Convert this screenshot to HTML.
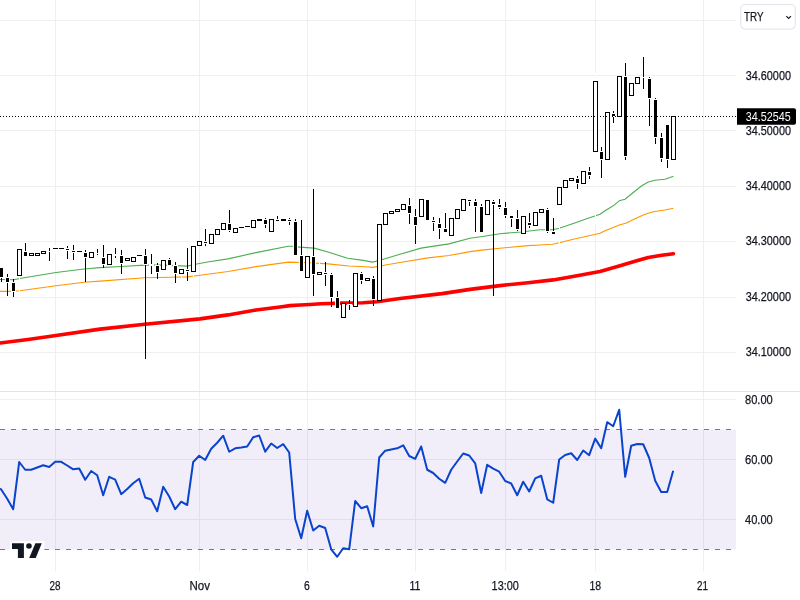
<!DOCTYPE html>
<html><head><meta charset="utf-8"><title>TRY chart</title>
<style>
html,body{margin:0;padding:0;background:#fff;width:800px;height:600px;overflow:hidden}
svg{position:absolute;left:0;top:0;display:block}
text{font-family:"Liberation Sans", Arial, sans-serif}
.d{stroke:#131722;stroke-width:0.25px}
</style></head>
<body>
<svg width="800" height="600" viewBox="0 0 800 600">
<rect x="0" y="0" width="800" height="600" fill="#ffffff"/>
<g fill="#efefef" shape-rendering="crispEdges">
<rect x="0" y="20" width="736" height="1"/>
<rect x="0" y="75" width="736" height="1"/>
<rect x="0" y="130" width="736" height="1"/>
<rect x="0" y="186" width="736" height="1"/>
<rect x="0" y="241" width="736" height="1"/>
<rect x="0" y="297" width="736" height="1"/>
<rect x="0" y="352" width="736" height="1"/>
<rect x="0" y="399" width="736" height="1"/>
<rect x="0" y="459" width="736" height="1"/>
<rect x="0" y="519" width="736" height="1"/>
<rect x="55" y="0" width="1" height="391"/>
<rect x="55" y="392" width="1" height="179"/>
<rect x="199" y="0" width="1" height="391"/>
<rect x="199" y="392" width="1" height="179"/>
<rect x="307" y="0" width="1" height="391"/>
<rect x="307" y="392" width="1" height="179"/>
<rect x="415" y="0" width="1" height="391"/>
<rect x="415" y="392" width="1" height="179"/>
<rect x="505" y="0" width="1" height="391"/>
<rect x="505" y="392" width="1" height="179"/>
<rect x="595" y="0" width="1" height="391"/>
<rect x="595" y="392" width="1" height="179"/>
<rect x="703" y="0" width="1" height="391"/>
<rect x="703" y="392" width="1" height="179"/>
</g>
<!-- RSI band -->
<rect x="0" y="429.5" width="736" height="120" fill="rgb(126,87,194)" fill-opacity="0.1"/>
<!-- pane separator -->
<rect x="0" y="391" width="800" height="1" fill="#e0e3eb" shape-rendering="crispEdges"/>
<!-- RSI dashed bounds -->
<line x1="0" y1="429.5" x2="736" y2="429.5" stroke="#787b86" stroke-width="1" stroke-dasharray="5 6" stroke-dashoffset="0"/>
<line x1="0" y1="549.5" x2="736" y2="549.5" stroke="#787b86" stroke-width="1" stroke-dasharray="5 6" stroke-dashoffset="0"/>
<!-- MAs -->
<polyline points="0.00,279.50 14.00,279.80 19.60,278.50 56.00,272.50 84.00,269.00 100.00,267.60 121.00,266.50 144.80,265.10 163.00,265.10 187.00,266.10 195.50,264.25 207.50,262.00 228.00,258.90 256.00,252.60 288.20,246.30 292.40,246.30 300.00,247.10 314.00,248.10 328.00,252.00 347.60,258.30 363.00,260.40 372.80,262.10 384.00,259.00 400.00,254.30 421.00,248.10 449.00,243.90 470.00,238.30 484.00,236.20 500.00,233.70 521.00,232.00 540.00,229.75 552.50,229.75 559.20,228.30 573.30,223.50 586.70,218.75 600.00,214.20 605.00,210.80 613.30,205.80 619.20,200.80 625.00,199.20 633.30,192.50 641.70,185.80 648.30,182.00 655.00,180.30 665.00,179.20 673.50,176.30" fill="none" stroke="#4caf50" stroke-width="1.1" stroke-linejoin="round"/>
<polyline points="0.00,291.40 11.20,291.40 19.60,290.70 56.00,285.80 84.00,282.30 100.00,281.10 144.80,277.80 170.00,277.20 187.00,276.90 200.00,275.20 228.00,271.50 256.00,266.60 288.20,262.10 304.20,262.50 328.00,263.90 349.00,266.00 365.80,266.70 372.80,267.40 384.00,265.30 400.00,262.50 428.00,257.90 449.00,255.50 470.00,251.60 484.00,249.90 500.00,248.20 528.00,245.60 540.00,245.00 552.50,244.20 559.20,242.70 573.30,239.20 586.70,236.25 600.00,233.30 605.00,230.80 613.30,227.50 620.00,224.70 625.80,223.30 635.00,218.70 645.00,214.20 653.30,211.70 665.00,210.00 673.50,208.30" fill="none" stroke="#ff9800" stroke-width="1.1" stroke-linejoin="round"/>
<polyline points="0.00,343.00 28.00,339.50 56.00,335.50 100.00,329.10 144.80,324.30 200.00,318.90 228.00,314.90 256.00,310.00 280.00,307.00 290.00,305.60 300.00,305.00 310.00,304.50 321.00,303.80 342.00,303.10 363.00,302.70 377.00,301.70 384.00,300.70 400.00,298.50 442.00,293.60 470.00,289.40 500.00,285.60 528.00,282.70 553.20,279.90 577.00,275.70 600.00,271.50 620.00,265.80 636.70,260.80 648.30,257.50 661.70,255.30 673.50,253.70" fill="none" stroke="#ff0000" stroke-width="3.6" stroke-linejoin="round" stroke-linecap="round"/>
<!-- candles -->
<g fill="#000" shape-rendering="crispEdges">
<rect x="559" y="205" width="1" height="39" fill="#fff"/>
<rect x="19" y="276" width="1" height="24" fill="#fff"/>
<rect x="55" y="245" width="1" height="9" fill="#fff"/>
<rect x="181" y="274" width="1" height="5" fill="#fff"/>
<rect x="193" y="272" width="1" height="6" fill="#fff"/>
<rect x="307" y="254" width="1" height="26" fill="#fff"/>
<rect x="319" y="261" width="1" height="11" fill="#fff"/>
<rect x="595" y="73" width="1" height="151" fill="#fff"/>
<rect x="1" y="267" width="1" height="15"/>
<rect x="-1" y="267" width="5" height="11" fill="#fff"/>
<rect x="0" y="268" width="3" height="9"/>
<rect x="7" y="274" width="1" height="22"/>
<rect x="5" y="277" width="5" height="6" fill="#fff"/>
<rect x="6" y="278" width="3" height="4"/>
<rect x="13" y="279" width="1" height="18"/>
<rect x="11" y="282" width="5" height="10" fill="#fff"/>
<rect x="12" y="283" width="3" height="8"/>
<rect x="17" y="249" width="5" height="27"/>
<rect x="18" y="250" width="3" height="25" fill="#fff"/>
<rect x="25" y="243" width="1" height="14"/>
<rect x="23" y="251" width="5" height="6" fill="#fff"/>
<rect x="24" y="252" width="3" height="4"/>
<rect x="29" y="253" width="5" height="3"/>
<rect x="30" y="254" width="3" height="1" fill="#fff"/>
<rect x="35" y="253" width="5" height="3"/>
<rect x="36" y="254" width="3" height="1" fill="#fff"/>
<rect x="41" y="251" width="5" height="3"/>
<rect x="42" y="252" width="3" height="1" fill="#fff"/>
<rect x="49" y="248" width="1" height="13"/>
<rect x="47" y="251" width="5" height="1" fill="#fff"/>
<rect x="53" y="248" width="5" height="1"/>
<rect x="59" y="248" width="5" height="1"/>
<rect x="67" y="246" width="1" height="13"/>
<rect x="65" y="248" width="5" height="3" fill="#fff"/>
<rect x="66" y="249" width="3" height="1"/>
<rect x="73" y="245" width="1" height="15"/>
<rect x="71" y="250" width="5" height="3" fill="#fff"/>
<rect x="72" y="251" width="3" height="1"/>
<rect x="77" y="251" width="5" height="1"/>
<rect x="85" y="250" width="1" height="32"/>
<rect x="83" y="252" width="5" height="6" fill="#fff"/>
<rect x="84" y="253" width="3" height="4"/>
<rect x="89" y="252" width="5" height="6"/>
<rect x="90" y="253" width="3" height="4" fill="#fff"/>
<rect x="97" y="249" width="1" height="6"/>
<rect x="95" y="253" width="5" height="1" fill="#fff"/>
<rect x="103" y="245" width="1" height="23"/>
<rect x="101" y="257" width="5" height="8" fill="#fff"/>
<rect x="102" y="258" width="3" height="6"/>
<rect x="107" y="254" width="5" height="11"/>
<rect x="108" y="255" width="3" height="9" fill="#fff"/>
<rect x="115" y="248" width="1" height="10"/>
<rect x="113" y="254" width="5" height="2" fill="#fff"/>
<rect x="121" y="250" width="1" height="24"/>
<rect x="119" y="255" width="5" height="9" fill="#fff"/>
<rect x="120" y="256" width="3" height="7"/>
<rect x="125" y="258" width="5" height="3"/>
<rect x="126" y="259" width="3" height="1" fill="#fff"/>
<rect x="131" y="257" width="5" height="5"/>
<rect x="132" y="258" width="3" height="3" fill="#fff"/>
<rect x="137" y="255" width="5" height="1"/>
<rect x="145" y="249" width="1" height="110"/>
<rect x="143" y="255" width="5" height="10" fill="#fff"/>
<rect x="144" y="256" width="3" height="8"/>
<rect x="151" y="254" width="1" height="20"/>
<rect x="149" y="264" width="5" height="2" fill="#fff"/>
<rect x="157" y="263" width="1" height="16"/>
<rect x="155" y="265" width="5" height="8" fill="#fff"/>
<rect x="156" y="266" width="3" height="6"/>
<rect x="161" y="260" width="5" height="10"/>
<rect x="162" y="261" width="3" height="8" fill="#fff"/>
<rect x="169" y="258" width="1" height="8"/>
<rect x="167" y="259" width="5" height="7" fill="#fff"/>
<rect x="168" y="260" width="3" height="5"/>
<rect x="175" y="262" width="1" height="21"/>
<rect x="173" y="265" width="5" height="9" fill="#fff"/>
<rect x="174" y="266" width="3" height="7"/>
<rect x="179" y="269" width="5" height="5"/>
<rect x="180" y="270" width="3" height="3" fill="#fff"/>
<rect x="187" y="248" width="1" height="33"/>
<rect x="185" y="269" width="5" height="3" fill="#fff"/>
<rect x="186" y="270" width="3" height="1"/>
<rect x="191" y="246" width="5" height="26"/>
<rect x="192" y="247" width="3" height="24" fill="#fff"/>
<rect x="197" y="241" width="5" height="5"/>
<rect x="198" y="242" width="3" height="3" fill="#fff"/>
<rect x="205" y="229" width="1" height="17"/>
<rect x="203" y="241" width="5" height="3" fill="#fff"/>
<rect x="204" y="242" width="3" height="1"/>
<rect x="209" y="234" width="5" height="10"/>
<rect x="210" y="235" width="3" height="8" fill="#fff"/>
<rect x="215" y="229" width="5" height="6"/>
<rect x="216" y="230" width="3" height="4" fill="#fff"/>
<rect x="221" y="223" width="5" height="7"/>
<rect x="222" y="224" width="3" height="5" fill="#fff"/>
<rect x="229" y="210" width="1" height="22"/>
<rect x="227" y="223" width="5" height="8" fill="#fff"/>
<rect x="228" y="224" width="3" height="6"/>
<rect x="233" y="228" width="5" height="5"/>
<rect x="234" y="229" width="3" height="3" fill="#fff"/>
<rect x="239" y="227" width="5" height="1"/>
<rect x="245" y="226" width="5" height="1"/>
<rect x="251" y="220" width="5" height="8"/>
<rect x="252" y="221" width="3" height="6" fill="#fff"/>
<rect x="257" y="219" width="5" height="2"/>
<rect x="265" y="218" width="1" height="10"/>
<rect x="263" y="219" width="5" height="6" fill="#fff"/>
<rect x="264" y="220" width="3" height="4"/>
<rect x="269" y="219" width="5" height="13"/>
<rect x="270" y="220" width="3" height="11" fill="#fff"/>
<rect x="277" y="216" width="1" height="6"/>
<rect x="275" y="219" width="5" height="3" fill="#fff"/>
<rect x="276" y="220" width="3" height="1"/>
<rect x="281" y="219" width="5" height="2"/>
<rect x="289" y="218" width="1" height="7"/>
<rect x="287" y="219" width="5" height="3" fill="#fff"/>
<rect x="288" y="220" width="3" height="1"/>
<rect x="295" y="219" width="1" height="37"/>
<rect x="293" y="221" width="5" height="35" fill="#fff"/>
<rect x="294" y="222" width="3" height="33"/>
<rect x="301" y="220" width="1" height="52"/>
<rect x="299" y="255" width="5" height="17" fill="#fff"/>
<rect x="300" y="256" width="3" height="15"/>
<rect x="305" y="256" width="5" height="22"/>
<rect x="306" y="257" width="3" height="20" fill="#fff"/>
<rect x="313" y="189" width="1" height="107"/>
<rect x="311" y="256" width="5" height="19" fill="#fff"/>
<rect x="312" y="257" width="3" height="17"/>
<rect x="317" y="272" width="5" height="3"/>
<rect x="318" y="273" width="3" height="1" fill="#fff"/>
<rect x="325" y="262" width="1" height="24"/>
<rect x="323" y="272" width="5" height="3" fill="#fff"/>
<rect x="324" y="273" width="3" height="1"/>
<rect x="331" y="273" width="1" height="34"/>
<rect x="329" y="274" width="5" height="24" fill="#fff"/>
<rect x="330" y="275" width="3" height="22"/>
<rect x="337" y="291" width="1" height="18"/>
<rect x="335" y="297" width="5" height="12" fill="#fff"/>
<rect x="336" y="298" width="3" height="10"/>
<rect x="341" y="303" width="5" height="15"/>
<rect x="342" y="304" width="3" height="13" fill="#fff"/>
<rect x="349" y="300" width="1" height="10"/>
<rect x="347" y="304" width="5" height="1" fill="#fff"/>
<rect x="353" y="273" width="5" height="34"/>
<rect x="354" y="274" width="3" height="32" fill="#fff"/>
<rect x="361" y="272" width="1" height="12"/>
<rect x="359" y="273" width="5" height="8" fill="#fff"/>
<rect x="360" y="274" width="3" height="6"/>
<rect x="365" y="278" width="5" height="3"/>
<rect x="366" y="279" width="3" height="1" fill="#fff"/>
<rect x="373" y="276" width="1" height="30"/>
<rect x="371" y="278" width="5" height="22" fill="#fff"/>
<rect x="372" y="279" width="3" height="20"/>
<rect x="377" y="224" width="5" height="77"/>
<rect x="378" y="225" width="3" height="75" fill="#fff"/>
<rect x="383" y="213" width="5" height="12"/>
<rect x="384" y="214" width="3" height="10" fill="#fff"/>
<rect x="389" y="211" width="5" height="3"/>
<rect x="390" y="212" width="3" height="1" fill="#fff"/>
<rect x="395" y="209" width="5" height="3"/>
<rect x="396" y="210" width="3" height="1" fill="#fff"/>
<rect x="401" y="204" width="5" height="6"/>
<rect x="402" y="205" width="3" height="4" fill="#fff"/>
<rect x="409" y="198" width="1" height="26"/>
<rect x="407" y="205" width="5" height="9" fill="#fff"/>
<rect x="408" y="206" width="3" height="7"/>
<rect x="415" y="209" width="1" height="35"/>
<rect x="413" y="216" width="5" height="10" fill="#fff"/>
<rect x="414" y="217" width="3" height="8"/>
<rect x="419" y="199" width="5" height="18"/>
<rect x="420" y="200" width="3" height="16" fill="#fff"/>
<rect x="427" y="199" width="1" height="22"/>
<rect x="425" y="199" width="5" height="22" fill="#fff"/>
<rect x="426" y="200" width="3" height="20"/>
<rect x="433" y="217" width="1" height="14"/>
<rect x="431" y="220" width="5" height="3" fill="#fff"/>
<rect x="432" y="221" width="3" height="1"/>
<rect x="439" y="218" width="1" height="21"/>
<rect x="437" y="223" width="5" height="6" fill="#fff"/>
<rect x="438" y="224" width="3" height="4"/>
<rect x="445" y="213" width="1" height="20"/>
<rect x="443" y="228" width="5" height="5" fill="#fff"/>
<rect x="444" y="229" width="3" height="3"/>
<rect x="449" y="218" width="5" height="18"/>
<rect x="450" y="219" width="3" height="16" fill="#fff"/>
<rect x="455" y="209" width="5" height="10"/>
<rect x="456" y="210" width="3" height="8" fill="#fff"/>
<rect x="461" y="199" width="5" height="12"/>
<rect x="462" y="200" width="3" height="10" fill="#fff"/>
<rect x="469" y="199" width="1" height="7"/>
<rect x="467" y="199" width="5" height="3" fill="#fff"/>
<rect x="468" y="200" width="3" height="1"/>
<rect x="475" y="199" width="1" height="33"/>
<rect x="473" y="201" width="5" height="6" fill="#fff"/>
<rect x="474" y="202" width="3" height="4"/>
<rect x="481" y="204" width="1" height="29"/>
<rect x="479" y="206" width="5" height="27" fill="#fff"/>
<rect x="480" y="207" width="3" height="25"/>
<rect x="485" y="200" width="5" height="15"/>
<rect x="486" y="201" width="3" height="13" fill="#fff"/>
<rect x="493" y="200" width="1" height="96"/>
<rect x="491" y="201" width="5" height="4" fill="#fff"/>
<rect x="492" y="202" width="3" height="2"/>
<rect x="499" y="199" width="1" height="10"/>
<rect x="497" y="204" width="5" height="4" fill="#fff"/>
<rect x="498" y="205" width="3" height="2"/>
<rect x="505" y="202" width="1" height="16"/>
<rect x="503" y="207" width="5" height="9" fill="#fff"/>
<rect x="504" y="208" width="3" height="7"/>
<rect x="511" y="215" width="1" height="12"/>
<rect x="509" y="215" width="5" height="4" fill="#fff"/>
<rect x="510" y="216" width="3" height="2"/>
<rect x="517" y="210" width="1" height="21"/>
<rect x="515" y="218" width="5" height="12" fill="#fff"/>
<rect x="516" y="219" width="3" height="10"/>
<rect x="521" y="216" width="5" height="18"/>
<rect x="522" y="217" width="3" height="16" fill="#fff"/>
<rect x="529" y="213" width="1" height="15"/>
<rect x="527" y="222" width="5" height="4" fill="#fff"/>
<rect x="528" y="223" width="3" height="2"/>
<rect x="533" y="212" width="5" height="14"/>
<rect x="534" y="213" width="3" height="12" fill="#fff"/>
<rect x="539" y="209" width="5" height="4"/>
<rect x="540" y="210" width="3" height="2" fill="#fff"/>
<rect x="547" y="208" width="1" height="25"/>
<rect x="545" y="209" width="5" height="23" fill="#fff"/>
<rect x="546" y="210" width="3" height="21"/>
<rect x="553" y="218" width="1" height="17"/>
<rect x="551" y="231" width="5" height="4" fill="#fff"/>
<rect x="552" y="232" width="3" height="2"/>
<rect x="557" y="187" width="5" height="18"/>
<rect x="558" y="188" width="3" height="16" fill="#fff"/>
<rect x="563" y="180" width="5" height="8"/>
<rect x="564" y="181" width="3" height="6" fill="#fff"/>
<rect x="569" y="178" width="5" height="3"/>
<rect x="570" y="179" width="3" height="1" fill="#fff"/>
<rect x="577" y="176" width="1" height="13"/>
<rect x="575" y="178" width="5" height="6" fill="#fff"/>
<rect x="576" y="179" width="3" height="4"/>
<rect x="581" y="171" width="5" height="13"/>
<rect x="582" y="172" width="3" height="11" fill="#fff"/>
<rect x="589" y="167" width="1" height="12"/>
<rect x="587" y="171" width="5" height="5" fill="#fff"/>
<rect x="588" y="172" width="3" height="3"/>
<rect x="593" y="81" width="5" height="71"/>
<rect x="594" y="82" width="3" height="69" fill="#fff"/>
<rect x="601" y="147" width="1" height="31"/>
<rect x="599" y="151" width="5" height="9" fill="#fff"/>
<rect x="600" y="152" width="3" height="7"/>
<rect x="605" y="112" width="5" height="48"/>
<rect x="606" y="113" width="3" height="46" fill="#fff"/>
<rect x="613" y="111" width="1" height="12"/>
<rect x="611" y="113" width="5" height="4" fill="#fff"/>
<rect x="612" y="114" width="3" height="2"/>
<rect x="617" y="76" width="5" height="41"/>
<rect x="618" y="77" width="3" height="39" fill="#fff"/>
<rect x="625" y="63" width="1" height="97"/>
<rect x="623" y="76" width="5" height="81" fill="#fff"/>
<rect x="624" y="77" width="3" height="79"/>
<rect x="629" y="83" width="5" height="13"/>
<rect x="630" y="84" width="3" height="11" fill="#fff"/>
<rect x="635" y="77" width="5" height="7"/>
<rect x="636" y="78" width="3" height="5" fill="#fff"/>
<rect x="643" y="57" width="1" height="32"/>
<rect x="641" y="77" width="5" height="1" fill="#fff"/>
<rect x="649" y="77" width="1" height="49"/>
<rect x="647" y="78" width="5" height="21" fill="#fff"/>
<rect x="648" y="79" width="3" height="19"/>
<rect x="655" y="98" width="1" height="46"/>
<rect x="653" y="99" width="5" height="39" fill="#fff"/>
<rect x="654" y="100" width="3" height="37"/>
<rect x="661" y="133" width="1" height="29"/>
<rect x="659" y="137" width="5" height="22" fill="#fff"/>
<rect x="660" y="138" width="3" height="20"/>
<rect x="667" y="124" width="1" height="44"/>
<rect x="665" y="124" width="5" height="36" fill="#fff"/>
<rect x="666" y="125" width="3" height="34"/>
<rect x="671" y="116" width="5" height="44"/>
<rect x="672" y="117" width="3" height="42" fill="#fff"/>
</g>
<!-- current price dotted line -->
<line x1="0" y1="116.5" x2="737" y2="116.5" stroke="#000" stroke-width="1" stroke-dasharray="1 2" shape-rendering="crispEdges"/>
<!-- RSI line -->
<polyline points="0.00,488.50 1.20,489.50 7.20,498.70 13.20,509.20 19.20,462.00 25.20,469.75 31.20,469.75 37.20,467.50 43.20,465.25 49.20,467.00 55.20,461.80 61.20,461.80 67.20,465.50 73.20,469.30 79.20,468.50 85.20,479.80 91.20,471.00 97.20,475.30 103.20,495.25 109.20,476.80 115.20,479.70 121.20,494.20 127.20,489.00 133.20,483.25 139.20,478.75 145.20,497.50 151.20,499.50 157.20,511.30 163.20,486.70 169.20,496.50 175.20,509.20 181.20,501.70 187.20,505.00 193.20,462.00 199.20,455.80 205.20,460.00 211.20,448.75 217.20,442.75 223.20,435.70 229.20,451.75 235.20,448.30 241.20,447.50 247.20,446.50 253.20,437.30 259.20,435.50 265.20,451.70 271.20,443.50 277.20,448.00 283.20,444.20 289.20,452.50 295.20,519.00 301.20,538.20 307.20,510.75 313.20,530.50 319.20,525.75 325.20,528.00 331.20,549.30 337.20,556.80 343.20,548.25 349.20,549.30 355.20,501.00 361.20,508.20 367.20,506.25 373.20,526.50 379.20,457.50 385.20,450.70 391.20,449.50 397.20,448.30 403.20,445.30 409.20,456.00 415.20,458.80 421.20,446.50 427.20,469.75 433.20,473.00 439.20,478.75 445.20,482.80 451.20,469.75 457.20,461.50 463.20,453.50 469.20,455.50 475.20,463.30 481.20,493.00 487.20,464.80 493.20,468.70 499.20,471.70 505.20,481.00 511.20,483.50 517.20,495.25 523.20,481.75 529.20,491.50 535.20,478.30 541.20,475.75 547.20,499.30 553.20,502.75 559.20,459.50 565.20,455.00 571.20,453.25 577.20,460.00 583.20,450.50 589.20,455.20 595.20,438.60 601.20,448.30 607.20,422.20 613.20,426.25 619.20,409.75 625.20,476.80 631.20,445.75 637.20,444.00 643.20,444.25 649.20,458.00 655.20,480.80 661.20,492.00 667.20,492.00 673.20,470.80" fill="none" stroke="#0b44cc" stroke-width="2" stroke-linejoin="round"/>
<!-- TradingView logo -->
<rect x="10" y="541" width="34.4" height="10" fill="#ffffff"/>
<g fill="#131722">
<path d="M12 543.2 H23.9 V558 H17.9 V548.9 H12 Z"/>
<circle cx="28.95" cy="546" r="2.8"/>
<path d="M35.4 543.2 H41.8 L35.7 558 H29.2 Z"/>
</g>
<!-- price axis labels -->
<text class="d" x="745.7" y="80.2" font-size="12.2" fill="#131722" textLength="45.3" lengthAdjust="spacingAndGlyphs" text-anchor="start">34.60000</text><text class="d" x="745.7" y="134.9" font-size="12.2" fill="#131722" textLength="45.3" lengthAdjust="spacingAndGlyphs" text-anchor="start">34.50000</text><text class="d" x="745.7" y="190.2" font-size="12.2" fill="#131722" textLength="45.3" lengthAdjust="spacingAndGlyphs" text-anchor="start">34.40000</text><text class="d" x="745.7" y="245.4" font-size="12.2" fill="#131722" textLength="45.3" lengthAdjust="spacingAndGlyphs" text-anchor="start">34.30000</text><text class="d" x="745.7" y="301" font-size="12.2" fill="#131722" textLength="45.3" lengthAdjust="spacingAndGlyphs" text-anchor="start">34.20000</text><text class="d" x="745.7" y="356" font-size="12.2" fill="#131722" textLength="45.3" lengthAdjust="spacingAndGlyphs" text-anchor="start">34.10000</text><text class="d" x="745" y="404.3" font-size="12.8" fill="#131722" textLength="27.8" lengthAdjust="spacingAndGlyphs" text-anchor="start">80.00</text><text class="d" x="745" y="464.3" font-size="12.8" fill="#131722" textLength="27.8" lengthAdjust="spacingAndGlyphs" text-anchor="start">60.00</text><text class="d" x="745" y="524.3" font-size="12.8" fill="#131722" textLength="27.8" lengthAdjust="spacingAndGlyphs" text-anchor="start">40.00</text>
<!-- last price label -->
<path d="M737 108.3 H794 Q796 108.3 796 110.3 V122.7 Q796 124.7 794 124.7 H737 Z" fill="#000"/>
<text x="745.7" y="120.8" font-size="12.2" fill="#fff" textLength="45" lengthAdjust="spacingAndGlyphs">34.52545</text>
<!-- time labels -->
<text class="d" x="55" y="589.6" font-size="13" fill="#131722" text-anchor="middle" textLength="11" lengthAdjust="spacingAndGlyphs">28</text><text class="d" x="199.75" y="589.6" font-size="13" fill="#131722" text-anchor="middle" textLength="20.5" lengthAdjust="spacingAndGlyphs">Nov</text><text class="d" x="307" y="589.6" font-size="13" fill="#131722" text-anchor="middle" textLength="5.8" lengthAdjust="spacingAndGlyphs">6</text><text class="d" x="415" y="589.6" font-size="13" fill="#131722" text-anchor="middle" textLength="11" lengthAdjust="spacingAndGlyphs">11</text><text class="d" x="505.25" y="589.6" font-size="13" fill="#131722" text-anchor="middle" textLength="27.3" lengthAdjust="spacingAndGlyphs">13:00</text><text class="d" x="595.25" y="589.6" font-size="13" fill="#131722" text-anchor="middle" textLength="11.7" lengthAdjust="spacingAndGlyphs">18</text><text class="d" x="702.5" y="589.6" font-size="13" fill="#131722" text-anchor="middle" textLength="11" lengthAdjust="spacingAndGlyphs">21</text>
<!-- TRY dropdown -->
<rect x="740.8" y="4.6" width="54.4" height="24.5" rx="4" ry="4" fill="#fff" stroke="#e0e3eb" stroke-width="1"/>
<text class="d" x="744" y="21" font-size="13" fill="#131722" textLength="19.5" lengthAdjust="spacingAndGlyphs">TRY</text>
<path d="M786.3 16.1 L788.6 18.4 L790.9 16.1" fill="none" stroke="#131722" stroke-width="1.15"/>
</svg>
</body></html>
